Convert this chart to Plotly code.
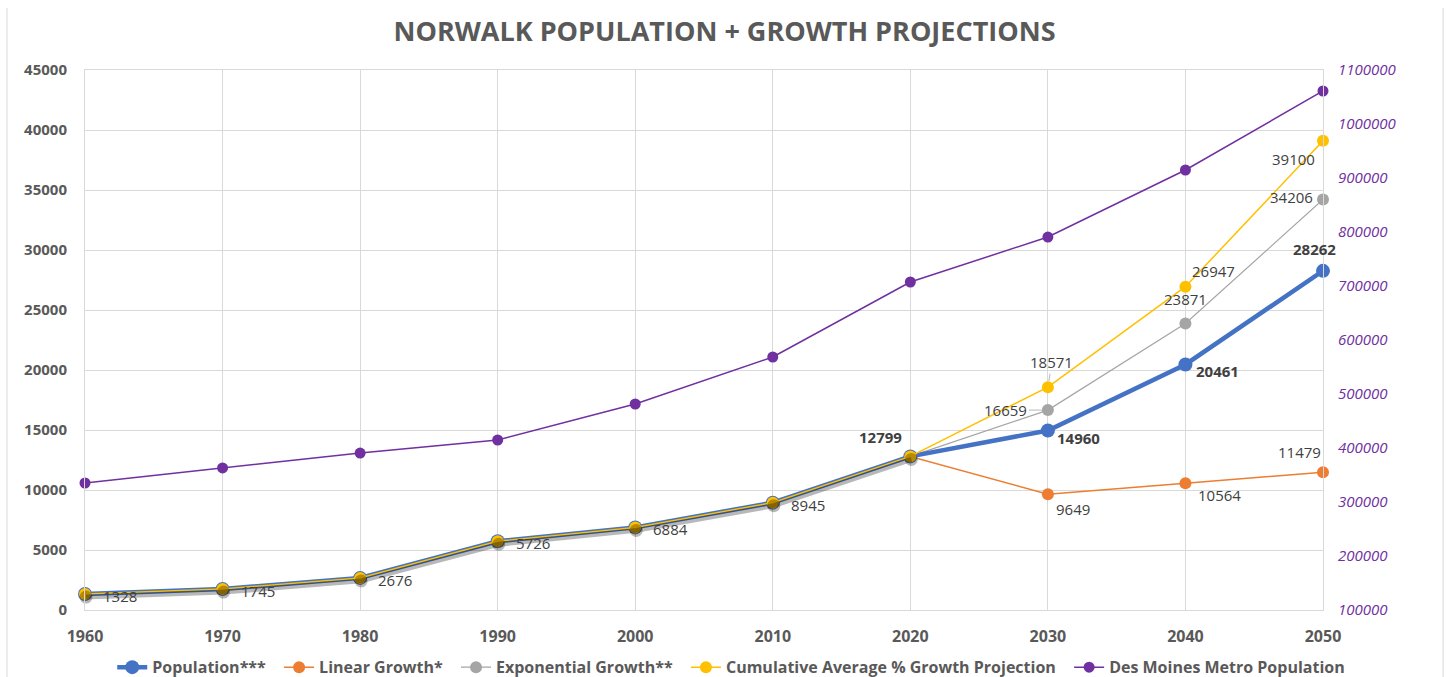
import plotly.graph_objects as go

# Census decades and projection decades
years = [1960, 1970, 1980, 1990, 2000, 2010, 2020, 2030, 2040, 2050]
historic = [1328, 1745, 2676, 5726, 6884, 8945, 12799]

population_proj = [14960, 20461, 28262]
linear_proj = [9649, 10564, 11479]
exponential_proj = [16659, 23871, 34206]
cumulative_proj = [18571, 26947, 39100]

des_moines_metro = [335200, 363000, 390700, 414800, 481500, 568500, 707400, 790700, 914800, 1061100]

population = historic + population_proj
linear = historic + linear_proj
exponential = historic + exponential_proj
cumulative = historic + cumulative_proj

BLUE = "#4472C4"
ORANGE = "#ED7D31"
GRAY = "#A5A5A5"
YELLOW = "#FFC000"
PURPLE = "#7030A0"
TEXT = "#595959"
LABEL = "#404040"
GRID = "#D9D9D9"
FONT = "Open Sans"
PAD = "\u00a0\u00a0"

fig = go.Figure()

fig.add_trace(go.Scatter(
    x=years, y=des_moines_metro, name="Des Moines Metro Population", yaxis="y2",
    mode="lines+markers", line=dict(color=PURPLE, width=1.5),
    marker=dict(size=11, color=PURPLE), cliponaxis=False, legendrank=5))

# soft shadow beneath the shared historic segment
fig.add_trace(go.Scatter(
    x=years[:len(historic)], y=historic, mode="lines+markers", showlegend=False,
    hoverinfo="skip", line=dict(color="rgba(0,0,0,0.28)", width=5),
    marker=dict(size=13, color="rgba(0,0,0,0.28)"), xaxis="x2", yaxis="y3",
    cliponaxis=False))

fig.add_trace(go.Scatter(
    x=years, y=linear, name="Linear Growth*" + PAD,
    mode="lines+markers", line=dict(color=ORANGE, width=1.5),
    marker=dict(size=12, color=ORANGE), cliponaxis=False, legendrank=2))

fig.add_trace(go.Scatter(
    x=years, y=exponential, name="Exponential Growth**" + PAD,
    mode="lines+markers", line=dict(color=GRAY, width=1.2),
    marker=dict(size=12, color=GRAY), cliponaxis=False, legendrank=3))

fig.add_trace(go.Scatter(
    x=years, y=population, name="Population***" + PAD,
    mode="lines+markers", line=dict(color=BLUE, width=4.5),
    marker=dict(size=14, color=BLUE), cliponaxis=False, legendrank=1))

fig.add_trace(go.Scatter(
    x=years, y=cumulative, name="Cumulative Average % Growth Projection" + PAD,
    mode="lines+markers", line=dict(color=YELLOW, width=1.5),
    marker=dict(size=12, color=YELLOW), cliponaxis=False, legendrank=4))

# Data labels: (series, index, xanchor, yanchor, xshift, yshift, bold)
label_specs = []
for i in range(6):
    label_specs.append((cumulative, i, "left", "middle", 16, -2, False))
label_specs += [
    (population, 6, "right", "bottom", -6, 7, True),
    (population, 7, "left", "middle", 7, -8, True),
    (population, 8, "left", "middle", 9, -7, True),
    (population, 9, "center", "bottom", -9, 10, True),
    (exponential, 8, "center", "bottom", 0, 13, False),
    (exponential, 9, "right", "middle", -8, 3, False),
    (cumulative, 8, "left", "bottom", 5, 4, False),
    (cumulative, 9, "right", "middle", -6, -18, False),
    (linear, 7, "left", "middle", 6, -15, False),
    (linear, 8, "left", "middle", 11, -12, False),
    (linear, 9, "right", "bottom", 0, 8, False),
]

annotations = []
for series, i, xa, ya, xs, ys, bold in label_specs:
    val = series[i]
    annotations.append(dict(
        x=years[i], y=val, xref="x", yref="y", showarrow=False,
        text=f"<b>{val}</b>" if bold else str(val),
        xanchor=xa, yanchor=ya, xshift=xs, yshift=ys,
        font=dict(family=FONT, size=15, color=LABEL)))

# Labels with leader lines
annotations.append(dict(
    x=years[7], y=exponential[7], xref="x", yref="y", text=str(exponential[7]),
    showarrow=True, arrowhead=0, arrowwidth=0.8, arrowcolor=GRAY, ax=-42, ay=0,
    standoff=6, font=dict(family=FONT, size=15, color=LABEL)))
annotations.append(dict(
    x=years[7], y=cumulative[7], xref="x", yref="y", text=str(cumulative[7]),
    showarrow=True, arrowhead=0, arrowwidth=0.8, arrowcolor=GRAY, ax=4, ay=-25,
    standoff=6, font=dict(family=FONT, size=15, color=LABEL)))

# shadow axes: same scale as the main axes, nudged a few pixels right/down
px_per_year = 90 / 1238
px_per_unit = 45000 / 540
sx, sy = 1, 3

fig.update_layout(
    width=1449, height=677,
    margin=dict(l=85, r=126, t=70, b=67, autoexpand=False),
    paper_bgcolor="white", plot_bgcolor="white",
    title=dict(text="<b>NORWALK POPULATION + GROWTH PROJECTIONS</b>",
               x=0.5, xanchor="center", y=0.953, yanchor="middle",
               font=dict(family=FONT, size=27, color=TEXT)),
    xaxis=dict(range=[1960, 2050], tickvals=years, showgrid=True, gridcolor=GRID,
               showline=True, linecolor=GRID, mirror=True, zeroline=False,
               ticklabelstandoff=12,
               tickfont=dict(family=FONT, size=16, color=TEXT, weight="bold")),
    xaxis2=dict(range=[1960 - sx * px_per_year, 2050 - sx * px_per_year],
                overlaying="x", visible=False),
    yaxis=dict(range=[0, 45000], dtick=5000, tickformat="d", showgrid=True, gridcolor=GRID,
               showline=True, linecolor=GRID, mirror=True, zeroline=False,
               ticklabelstandoff=14,
               tickfont=dict(family=FONT, size=15, color=TEXT, weight="bold")),
    yaxis2=dict(range=[100000, 1100000], dtick=100000, tickformat="d", overlaying="y",
                side="right", showgrid=False, zeroline=False, ticklabelstandoff=14,
                tickfont=dict(family=FONT, size=15, color=PURPLE, style="italic")),
    yaxis3=dict(range=[sy * px_per_unit, 45000 + sy * px_per_unit],
                overlaying="y", visible=False),
    legend=dict(orientation="h", x=0.522, xanchor="center", y=-0.106, yanchor="middle",
                font=dict(family=FONT, size=16, color=TEXT, weight="bold"),
                itemwidth=30, traceorder="normal"),
    annotations=annotations,
    shapes=[
        dict(type="line", xref="paper", yref="paper", x0=-0.063, x1=-0.063,
             y0=1.115, y1=-0.2, line=dict(color=GRID, width=1)),
        dict(type="line", xref="paper", yref="paper", x0=1.097, x1=1.097,
             y0=1.115, y1=-0.2, line=dict(color=GRID, width=1)),
    ],
)

fig.write_html("out.html")
